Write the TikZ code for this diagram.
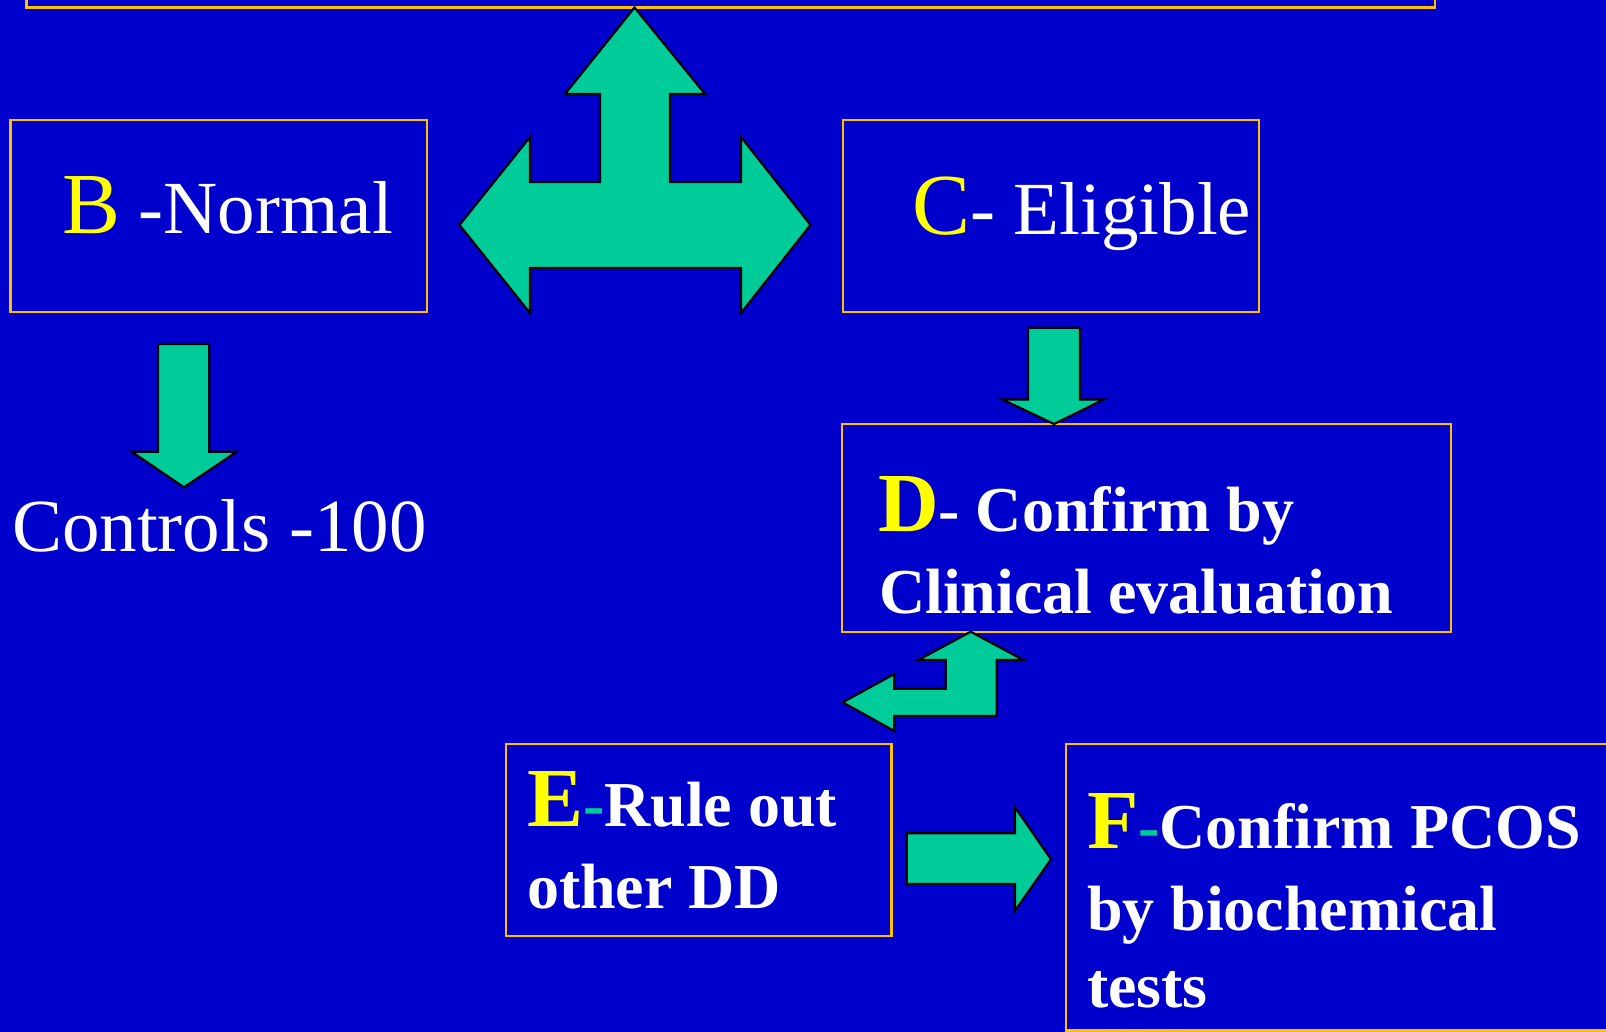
\documentclass[tikz,border=0pt]{standalone}
\usepackage{fontspec}
\setmainfont{Liberation Serif}
\definecolor{bg}{HTML}{0000CC}
\definecolor{arrowfill}{HTML}{00CC99}
\definecolor{boxline}{HTML}{FFC000}
\definecolor{ylw}{HTML}{FFFF00}
\tikzset{
  box/.style={draw=boxline, line width=1.3pt, fill=none},
  blockarrow/.style={fill=arrowfill, draw=black, line width=1.1pt, line join=miter},
  txt/.style={text=white, inner sep=0pt, outer sep=0pt, anchor=base west},
  regtxt/.style={txt, font=\fontsize{37.5}{44}\selectfont},
  boldtxt/.style={txt, font=\bfseries\fontsize{32}{38}\selectfont},
}
\newcommand{\bigletter}[1]{{\fontsize{43.5}{43}\selectfont\color{ylw}#1}}
\newcommand{\bigboldletter}[1]{{\fontsize{42}{42}\selectfont\color{ylw}#1}}
\begin{document}
\begin{tikzpicture}[x=0.5pt,y=-0.5pt]
\useasboundingbox (0,0) rectangle (1606,1032);
\clip (0,0) rectangle (1606,1032);
\fill[bg] (0,0) rectangle (1606,1032);

% boxes
\draw[box] (26.6,-30) rectangle (1435,7.5) coordinate (topbox);
\draw[box] (10.5,120) rectangle (427,312);
\draw[box] (843,120) rectangle (1259,312);
\draw[box] (842,424) rectangle (1451,632);
\draw[box] (506,744) rectangle (891.5,936);
\draw[box] (1066,744) rectangle (1640,1030.5);

% texts
\node[regtxt] (btext) at (62,234) {\bigletter{B} -Normal};
\node[regtxt] (ctext) at (912,235) {\bigletter{C}- Eligible};
\node[regtxt] (controls) at (12,551.7) {Controls -100};
\node[boldtxt] (dtext1) at (878,531.7) {\bigboldletter{D}- Confirm by};
\node[boldtxt] (dtext2) at (879,613) {Clinical evaluation};
\node[boldtxt] (etext1) at (527,826) {\bigboldletter{E}{\color{arrowfill}-}Rule out};
\node[boldtxt] (etext2) at (527,908.3) {other DD};
\node[boldtxt] (ftext1) at (1087,848.3) {\bigboldletter{F}{\color{arrowfill}-}Confirm PCOS};
\node[boldtxt] (ftext2) at (1087,930.7) {by biochemical};
\node[boldtxt] (ftext3) at (1087,1007.3) {tests};

% three-way arrow
\draw[blockarrow] (634.5,7.5) -- (705,94) -- (670,94) -- (670,182) -- (741,182) -- (741,137)
  -- (810.5,225) -- (741,313) -- (741,268) -- (530,268) -- (530,313) -- (459.5,225)
  -- (530,137) -- (530,182) -- (600,182) -- (600,94) -- (565,94) -- cycle;

% down arrow B -> Controls
\draw[blockarrow] (158,344) -- (209.3,344) -- (209.3,451.7) -- (236.7,451.7) -- (184,487.3)
  -- (131.7,451.7) -- (158,451.7) -- cycle;

% down arrow C -> D
\draw[blockarrow] (1028,327.7) -- (1080,327.7) -- (1080,399.4) -- (1104,399.4) -- (1054,424)
  -- (1002,399.4) -- (1028,399.4) -- cycle;

% bent arrow D <-> E
\draw[blockarrow] (970.7,631.7) -- (1023.3,660) -- (996.7,660) -- (996.7,716) -- (894.3,716)
  -- (894.3,731) -- (842.7,702.3) -- (894.3,674) -- (894.3,688.7) -- (945.7,688.7)
  -- (945.7,660) -- (918.3,660) -- cycle;

% right arrow E -> F
\draw[blockarrow] (906.7,833.3) -- (1015,833.3) -- (1015,807.3) -- (1051,859.3) -- (1015,910.7)
  -- (1015,884) -- (906.7,884) -- cycle;
\end{tikzpicture}
\end{document}
